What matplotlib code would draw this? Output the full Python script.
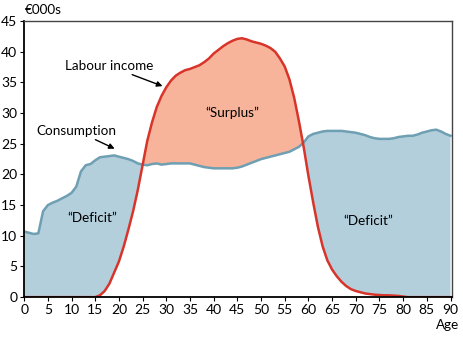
import matplotlib.pyplot as plt
import numpy as np

plt.rcParams['font.family'] = ['Lato', 'DejaVu Sans']

age = np.arange(0, 91)

consumption = [
    10.7, 10.5, 10.3, 10.4, 14.0, 15.0, 15.4, 15.7, 16.1, 16.5,
    17.0, 18.0, 20.5, 21.5, 21.7, 22.3, 22.8, 22.9, 23.0, 23.1,
    22.9, 22.7, 22.5, 22.2, 21.8, 21.6, 21.5, 21.7, 21.8, 21.6,
    21.7, 21.8, 21.8, 21.8, 21.8, 21.8, 21.6, 21.4, 21.2, 21.1,
    21.0, 21.0, 21.0, 21.0, 21.0, 21.1, 21.3, 21.6, 21.9, 22.2,
    22.5, 22.7, 22.9, 23.1, 23.3, 23.5, 23.7, 24.1, 24.5, 25.2,
    26.2, 26.6, 26.8, 27.0, 27.1, 27.1, 27.1, 27.1, 27.0, 26.9,
    26.8, 26.6, 26.4, 26.1, 25.9, 25.8, 25.8, 25.8, 25.9, 26.1,
    26.2, 26.3, 26.3, 26.5, 26.8, 27.0, 27.2, 27.3, 27.0, 26.6,
    26.3,
]

labour_income = [
    0, 0, 0, 0, 0, 0, 0, 0, 0, 0,
    0, 0, 0, 0, 0, 0, 0.3, 1.0, 2.2, 4.0,
    5.8, 8.2, 11.0, 14.0, 17.5, 21.5, 25.5, 28.5, 31.0, 32.8,
    34.2, 35.3, 36.1, 36.6, 37.0, 37.2, 37.5, 37.8, 38.3, 38.9,
    39.7, 40.3, 40.9, 41.4, 41.8, 42.1, 42.2, 42.0, 41.7, 41.5,
    41.3, 41.0, 40.6, 40.0, 38.9, 37.6, 35.5, 32.5, 28.7, 24.5,
    19.8, 15.5, 11.5, 8.3, 6.0, 4.5, 3.4, 2.5, 1.8, 1.3,
    1.0, 0.8, 0.6, 0.5, 0.4, 0.35, 0.3, 0.3, 0.25, 0.2,
    0.1, 0, 0, 0, 0, 0, 0, 0, 0, 0,
    0,
]

cons = np.array(consumption)
lab = np.array(labour_income)

fig = plt.figure(figsize=(4.64, 3.4), dpi=100)
ax = fig.add_axes([0.052, 0.126, 0.922, 0.812])

# deficit where consumption exceeds income, surplus the other way round
ax.fill_between(age, lab, cons, where=cons >= lab, interpolate=True,
                color='#b3cfdc', lw=0)
ax.fill_between(age, cons, lab, where=lab >= cons, interpolate=True,
                color='#f7b49b', lw=0)
ax.plot(age, cons, color='#6f9fb2', lw=1.8)
ax.plot(age, lab, color='#d8342a', lw=1.8)

ax.set_xlim(0, 90.3)
ax.set_ylim(0, 45)
ax.set_xticks(np.arange(0, 91, 5))
ax.set_yticks(np.arange(0, 46, 5))
ax.tick_params(labelsize=10, length=3, pad=2, color='black')
for side in ['left', 'bottom']:
    ax.spines[side].set_linewidth(1.3)
for side in ['top', 'right']:
    ax.spines[side].set_color('#444444')
    ax.spines[side].set_linewidth(1.0)

fs = 9.7
arrow = dict(arrowstyle='-|>', color='black', lw=1, mutation_scale=8,
             shrinkA=0, shrinkB=0)
ax.annotate('Labour income', xy=(29.2, 34.4), xytext=(17.9, 37.7),
            ha='center', va='center', fontsize=fs, arrowprops=arrow)
ax.annotate('Consumption', xy=(19.1, 24.2), xytext=(11.1, 27.1),
            ha='center', va='center', fontsize=fs, arrowprops=arrow)
ax.text(44, 30.0, '\u201cSurplus\u201d', ha='center', va='center', fontsize=fs)
ax.text(14.3, 12.9, '\u201cDeficit\u201d', ha='center', va='center', fontsize=fs)
ax.text(72.7, 12.4, '\u201cDeficit\u201d', ha='center', va='center', fontsize=fs)

fig.text(0.054, 0.972, '\u20ac000s', ha='left', va='center', fontsize=fs)
fig.text(0.989, 0.044, 'Age', ha='right', va='center', fontsize=fs)

fig.savefig('out.png', dpi=100)
